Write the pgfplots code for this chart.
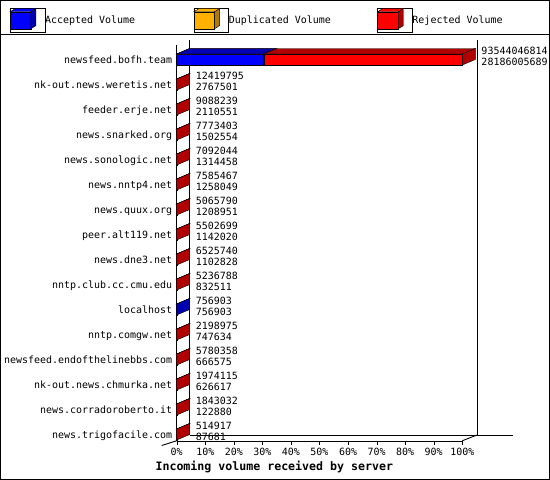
\documentclass[border=0pt]{standalone}
\usepackage{pgfplots}
\pgfplotsset{compat=1.18}
\usepackage{pgfplotstable}
\usepackage{fontspec}
\setmonofont{DejaVu Sans Mono}
\definecolor{cred}{HTML}{FF0000}
\definecolor{cdred}{HTML}{B00000}
\definecolor{cblue}{HTML}{0000FF}
\definecolor{cdblue}{HTML}{0000B0}
\definecolor{corange}{HTML}{FFB000}
\definecolor{cdorange}{HTML}{B07B00}
\newcommand\lbl{\ttfamily\fontsize{9.97}{11}\selectfont}

% volumes in bytes: total offered, accepted, duplicated, rejected
\pgfplotstableread{
i name total acc dup rej
0 newsfeed.bofh.team 93544046814 28186005689 421000000 64937041125
1 nk-out.news.weretis.net 12419795 2767501 0 9652294
2 feeder.erje.net 9088239 2110551 0 6977688
3 news.snarked.org 7773403 1502554 0 6270849
4 news.sonologic.net 7092044 1314458 0 5777586
5 news.nntp4.net 7585467 1258049 0 6327418
6 news.quux.org 5065790 1208951 0 3856839
7 peer.alt119.net 5502699 1142020 0 4360679
8 news.dne3.net 6525740 1102828 0 5422912
9 nntp.club.cc.cmu.edu 5236788 832511 0 4404277
10 localhost 756903 756903 0 0
11 nntp.comgw.net 2198975 747634 0 1451341
12 newsfeed.endofthelinebbs.com 5780358 666575 0 5113783
13 nk-out.news.chmurka.net 1974115 626617 0 1347498
14 news.corradoroberto.it 1843032 122880 0 1720152
15 news.trigofacile.com 514917 87681 0 427236
}\srv

% top face of a 3D bar running from x=0 to the mark (\cumx = x in percent)
\pgfdeclareplotmark{top3d}{%
  \pgfmathsetmacro\Wd{\cumx*2.856}%
  \pgfmathsetmacro\Wm{\Wd-13}%
  \pgfpathmoveto{\pgfqpoint{-\Wd pt}{5.5pt}}%
  \pgfpathlineto{\pgfqpoint{-\Wm pt}{11pt}}%
  \pgfpathlineto{\pgfqpoint{13pt}{11pt}}%
  \pgfpathlineto{\pgfqpoint{0pt}{5.5pt}}%
  \pgfpathclose
  \pgfusepathqfillstroke
}
% right side face of the whole bar
\pgfdeclareplotmark{side3d}{%
  \pgfpathmoveto{\pgfqpoint{0pt}{-5.5pt}}%
  \pgfpathlineto{\pgfqpoint{0pt}{5.5pt}}%
  \pgfpathlineto{\pgfqpoint{13pt}{11pt}}%
  \pgfpathlineto{\pgfqpoint{13pt}{0pt}}%
  \pgfpathclose
  \pgfusepathqfillstroke
}

\begin{document}
\begin{tikzpicture}[line width=0.9pt]
% frame, legend separator, back walls and floor (pixel coordinates)
\begin{scope}[x=1pt,y=-1pt]
  \draw (0.5,0.5) rectangle (549.5,479.5);
  \draw (0,34.5) -- (550,34.5);
  \draw (189.5,40) -- (189.5,435);
  \draw (477,40) -- (477,435);
  \draw (189.5,435) -- (513,435);
  \draw (462.3,440.75) -- (477,435);
  \draw (161.7,445.5) -- (176.7,440.75);
\end{scope}
\begin{axis}[
  at={(176.7pt,-440.75pt)}, anchor=south west,
  x=2.856pt, y=25pt,
  xmin=0, xmax=100, ymin=-15.25, ymax=0.6,
  enlargelimits=false,
  clip=false,
  axis lines*=left,
  axis line style={-, black},
  every outer x axis line/.append style={-},
  every outer y axis line/.append style={-},
  tick align=outside,
  major tick length=4pt,
  xtick={0,10,...,100},
  xticklabels={0\%,10\%,20\%,30\%,40\%,50\%,60\%,70\%,80\%,90\%,100\%},
  xtick style={black},
  ytick={-15,-14,...,0},
  yticklabels={news.trigofacile.com,news.corradoroberto.it,nk-out.news.chmurka.net,newsfeed.endofthelinebbs.com,nntp.comgw.net,localhost,nntp.club.cc.cmu.edu,news.dne3.net,peer.alt119.net,news.quux.org,news.nntp4.net,news.sonologic.net,news.snarked.org,feeder.erje.net,nk-out.news.weretis.net,newsfeed.bofh.team},
  ytick style={draw=none},
  tick label style={font=\lbl, text=black},
  xticklabel style={anchor=base, inner sep=0pt, yshift=-10.25pt},
  yticklabel style={anchor=base east, inner sep=0pt, yshift=-3.8pt, xshift=-0.4pt},
  xlabel={Incoming volume received by server},
  xlabel style={at={(axis description cs:0.3417,-0.07558)}, anchor=base, inner sep=0pt,
    font=\ttfamily\bfseries\fontsize{11.6}{13}\selectfont},
  legend columns=3,
  legend cell align=left,
  legend style={at={(axis description cs:-0.58368,1.06132)}, anchor=west,
    draw=none, fill=none, inner sep=0pt, outer sep=0pt,
    /tikz/column sep=0pt, /tikz/row sep=0pt,
    nodes={inner sep=0pt}, font=\lbl},
]
% legend entries: 3D boxes
\addlegendimage{legend image code/.code={
  \path (0pt,-12pt) rectangle (34.7pt,12pt);
  \draw[black, fill=cblue] (0pt,-8.5pt) rectangle (20.7pt,8.5pt);
  \draw[black, fill=cblue] (0pt,8.5pt) -- (5pt,11.5pt) -- (25.7pt,11.5pt) -- (20.7pt,8.5pt) -- cycle;
  \draw[black, fill=cdblue] (20.7pt,8.5pt) -- (25.7pt,11.5pt) -- (25.7pt,-5.5pt) -- (20.7pt,-8.5pt) -- cycle;}}
\addlegendentry{\makebox[148.6pt][l]{Accepted Volume}}
\addlegendimage{legend image code/.code={
  \path (0pt,-12pt) rectangle (34.7pt,12pt);
  \draw[black, fill=corange] (0pt,-8.5pt) rectangle (20.7pt,8.5pt);
  \draw[black, fill=corange] (0pt,8.5pt) -- (5pt,11.5pt) -- (25.7pt,11.5pt) -- (20.7pt,8.5pt) -- cycle;
  \draw[black, fill=cdorange] (20.7pt,8.5pt) -- (25.7pt,11.5pt) -- (25.7pt,-5.5pt) -- (20.7pt,-8.5pt) -- cycle;}}
\addlegendentry{\makebox[148.6pt][l]{Duplicated Volume}}
\addlegendimage{legend image code/.code={
  \path (0pt,-12pt) rectangle (34.7pt,12pt);
  \draw[black, fill=cred] (0pt,-8.5pt) rectangle (20.7pt,8.5pt);
  \draw[black, fill=cred] (0pt,8.5pt) -- (5pt,11.5pt) -- (25.7pt,11.5pt) -- (20.7pt,8.5pt) -- cycle;
  \draw[black, fill=cdred] (20.7pt,8.5pt) -- (25.7pt,11.5pt) -- (25.7pt,-5.5pt) -- (20.7pt,-8.5pt) -- cycle;}}
\addlegendentry{Rejected Volume}

% front faces (cumulative, drawn largest first)
\addplot[xbar, bar width=11pt, bar shift=0pt, fill=cred, draw=black, forget plot]
  table[x expr=\thisrow{total}/935440468.14, y expr=-\thisrow{i}]{\srv};
\addplot[xbar, bar width=11pt, bar shift=0pt, fill=corange, draw=black, forget plot]
  table[x expr=(\thisrow{acc}+\thisrow{dup})/935440468.14, y expr=-\thisrow{i}]{\srv};
\addplot[xbar, bar width=11pt, bar shift=0pt, fill=cblue, draw=black, forget plot]
  table[x expr=\thisrow{acc}/935440468.14, y expr=-\thisrow{i}]{\srv};

% top faces
\addplot[scatter, only marks, mark=top3d, forget plot,
  visualization depends on={\thisrow{total}/935440468.14 \as \cumx},
  scatter/use mapped color={draw=black, fill=cdred}]
  table[x expr=\thisrow{total}/935440468.14, y expr=-\thisrow{i}]{\srv};
\addplot[scatter, only marks, mark=top3d, forget plot,
  visualization depends on={(\thisrow{acc}+\thisrow{dup})/935440468.14 \as \cumx},
  scatter/use mapped color={draw=black, fill=cdorange}]
  table[x expr=(\thisrow{acc}+\thisrow{dup})/935440468.14, y expr=-\thisrow{i}]{\srv};
\addplot[scatter, only marks, mark=top3d, forget plot,
  visualization depends on={\thisrow{acc}/935440468.14 \as \cumx},
  scatter/use mapped color={draw=black, fill=cdblue}]
  table[x expr=\thisrow{acc}/935440468.14, y expr=-\thisrow{i}]{\srv};
% side faces: red where something was rejected, blue where all was accepted
\addplot[scatter, only marks, mark=side3d, forget plot,
  restrict expr to domain={\thisrow{rej}}{1:1e15},
  scatter/use mapped color={draw=black, fill=cdred}]
  table[x expr=\thisrow{total}/935440468.14, y expr=-\thisrow{i}]{\srv};
\addplot[scatter, only marks, mark=side3d, forget plot,
  restrict expr to domain={\thisrow{rej}+\thisrow{dup}}{-1:0.5},
  scatter/use mapped color={draw=black, fill=cdblue}]
  table[x expr=\thisrow{total}/935440468.14, y expr=-\thisrow{i}]{\srv};

% value labels: total volume, then accepted volume
\addplot[draw=none, mark=none, forget plot, point meta=explicit symbolic,
  nodes near coords,
  every node near coord/.append style={anchor=west, inner sep=0pt,
    xshift=19pt, yshift=9pt, font=\lbl, text=black}]
  table[x expr=\thisrow{total}/935440468.14, y expr=-\thisrow{i}, meta=total]{\srv};
\addplot[draw=none, mark=none, forget plot, point meta=explicit symbolic,
  nodes near coords,
  every node near coord/.append style={anchor=west, inner sep=0pt,
    xshift=19pt, yshift=-2pt, font=\lbl, text=black}]
  table[x expr=\thisrow{total}/935440468.14, y expr=-\thisrow{i}, meta=acc]{\srv};
\end{axis}
\pgfresetboundingbox
\path[use as bounding box] (0pt,0pt) rectangle (550pt,-480pt);
\end{tikzpicture}
\end{document}
